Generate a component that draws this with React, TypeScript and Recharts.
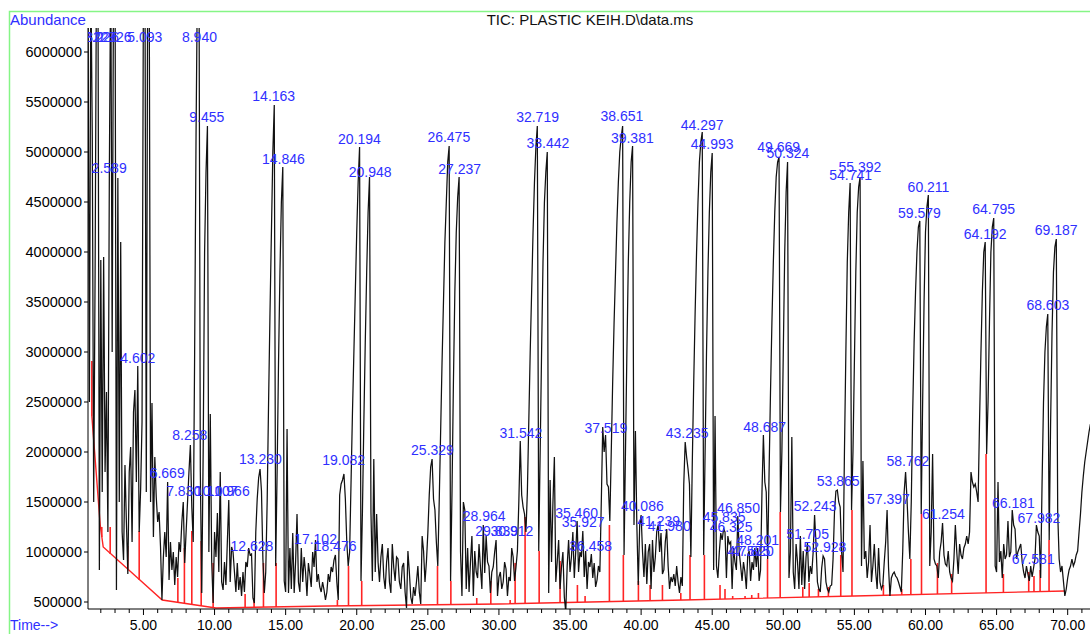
import React from 'react'
import { ComposedChart, Line, Scatter, XAxis, YAxis, ReferenceLine } from 'recharts'

// TIC scans every 0.1 min, abundance in units of 10 000 counts
const SCAN_STEP = 0.1

// 1.1 - 10.0 min
const scans01 = [
    660, 250, 680, 517, 150, 380, 700, 680, 82, 392,
    160, 395, 180, 260, 120, 475, 700, 300, 700, 690,
    62, 474, 150, 410, 120, 92, 187, 130, 78, 180,
    205, 110, 240, 262, 170, 286, 120, 162, 230, 680,
    710, 160, 690, 700, 150, 249, 115, 195, 155, 130,
    140, 105, 52, 95, 120, 95, 170, 72, 110, 82,
    100, 67, 95, 75, 110, 100, 130, 150, 89, 120,
    150, 180, 207, 145, 110, 300, 520, 680, 720, 180,
    59, 200, 400, 480, 526, 100, 238, 90, 49, 120,
]
// 10.1 - 20.0 min
const scans10 = [
    95, 139, 80, 180, 70, 62, 90, 67, 110, 152,
    70, 105, 100, 80, 60, 89, 62, 75, 56, 80,
    60, 90, 85, 104, 97, 98, 54, 49, 120, 153,
    174, 183, 161, 93, 59, 80, 150, 250, 340, 420,
    500, 547, 86, 180, 290, 380, 450, 485, 71, 60,
    223, 59, 104, 63, 119, 59, 90, 138, 70, 60,
    104, 70, 95, 80, 56, 89, 78, 65, 100, 85,
    112, 70, 78, 65, 60, 70, 62, 52, 60, 78,
    70, 85, 80, 92, 97, 70, 52, 157, 168, 172,
    178, 153, 110, 86, 100, 170, 240, 300, 360, 420,
]
// 20.1 - 30.0 min
const scans20 = [
    470, 505, 71, 140, 230, 310, 380, 440, 475, 140,
    71, 193, 80, 138, 90, 70, 95, 108, 75, 63,
    90, 104, 70, 59, 108, 85, 71, 95, 93, 70,
    63, 85, 89, 60, 44, 101, 80, 55, 48, 65,
    56, 70, 86, 60, 48, 116, 101, 70, 90, 119,
    157, 185, 193, 153, 142, 110, 86, 150, 220, 290,
    350, 410, 450, 490, 506, 71, 160, 270, 360, 420,
    455, 475, 100, 56, 150, 142, 63, 104, 60, 90,
    116, 56, 101, 80, 74, 108, 85, 63, 127, 79,
    116, 90, 86, 59, 80, 85, 100, 112, 56, 75,
]
// 30.1 - 40.0 min
const scans30 = [
    80, 63, 70, 90, 83, 56, 75, 71, 104, 95,
    71, 85, 101, 150, 211, 157, 145, 138, 120, 160,
    230, 300, 360, 420, 470, 505, 526, 101, 200, 300,
    390, 450, 480, 500, 59, 172, 90, 150, 195, 70,
    90, 112, 63, 85, 100, 55, 40, 86, 112, 80,
    95, 120, 74, 100, 131, 80, 100, 95, 121, 75,
    101, 63, 90, 85, 98, 74, 89, 65, 72, 86,
    80, 150, 225, 200, 217, 168, 165, 131, 200, 270,
    330, 380, 430, 470, 500, 515, 526, 97, 200, 300,
    390, 450, 490, 506, 127, 221, 127, 67, 127, 137,
]
// 40.1 - 50.0 min
const scans40 = [
    100, 75, 108, 68, 100, 108, 63, 112, 80, 95,
    121, 127, 100, 119, 78, 82, 110, 123, 86, 63,
    75, 70, 78, 66, 86, 70, 59, 75, 66, 168,
    210, 195, 183, 168, 95, 190, 270, 340, 400, 450,
    490, 510, 520, 97, 200, 300, 380, 440, 480, 499,
    82, 236, 86, 74, 100, 119, 112, 123, 120, 74,
    116, 108, 110, 63, 104, 90, 82, 136, 100, 86,
    71, 90, 80, 63, 97, 101, 71, 90, 82, 104,
    85, 104, 71, 82, 160, 217, 170, 160, 93, 180,
    260, 330, 390, 440, 475, 490, 495, 140, 200, 300,
]
// 50.1 - 60.0 min
const scans50 = [
    400, 460, 490, 74, 100, 215, 80, 63, 108, 90,
    63, 116, 67, 101, 63, 95, 109, 70, 86, 78,
    100, 137, 108, 70, 63, 60, 84, 96, 93, 70,
    63, 60, 66, 67, 93, 140, 161, 162, 150, 145,
    100, 80, 200, 300, 390, 440, 469, 142, 200, 290,
    380, 440, 465, 475, 86, 191, 93, 101, 74, 90,
    127, 70, 86, 108, 80, 63, 104, 70, 63, 67,
    90, 110, 142, 85, 56, 74, 78, 80, 76, 74,
    70, 65, 60, 101, 160, 180, 153, 120, 93, 150,
    240, 310, 360, 400, 425, 431, 138, 250, 350, 420,
]
// 60.1 - 71.6 min
const scans60 = [
    445, 457, 86, 120, 198, 93, 88, 86, 74, 100,
    110, 129, 97, 88, 86, 101, 80, 74, 71, 93,
    127, 100, 78, 108, 97, 93, 104, 108, 116, 108,
    120, 180, 170, 165, 168, 160, 150, 230, 300, 360,
    400, 410, 198, 250, 330, 400, 425, 434, 86, 80,
    170, 90, 101, 74, 108, 93, 97, 131, 95, 100,
    142, 127, 123, 93, 100, 104, 108, 90, 80, 74,
    86, 78, 71, 86, 75, 84, 93, 127, 120, 116,
    74, 170, 250, 300, 325, 338, 112, 230, 320, 380,
    405, 413, 138, 93, 80, 86, 71, 56, 63, 74,
    82, 86, 93, 86, 90, 97, 101, 120, 138, 160,
    176, 190, 200, 210, 220, 228,
]

const scanSegments: [number, number[]][] = [
    [1.1, scans01],
    [10.1, scans10],
    [20.1, scans20],
    [30.1, scans30],
    [40.1, scans40],
    [50.1, scans50],
    [60.1, scans60],
]

// integration baseline (min, 10 000 counts)
const baselineTimes = [1.37, 1.96, 2.17, 6.32, 10.1, 18, 30, 43, 55, 69.8]
const baselineLevels = [236, 127, 105, 52, 44, 46, 48, 52, 56, 61]

// integration marks: [time, baseline, signal]
const integrationMarks: [number, number, number][] = [
    [1.37, 236, 291], [2.07, 115, 125], [2.66, 98, 125], [3.9, 83, 106], [4.7, 72, 121],
    [7.42, 50, 74], [7.88, 49, 104], [8.4, 48, 121], [9.06, 46, 111], [9.9, 44, 89],
    [12.15, 44, 58], [12.78, 45, 54], [13.44, 45, 89], [14.33, 45, 89], [18.64, 46, 52],
    [19.42, 46, 86], [20.35, 46, 71], [25.68, 47, 86], [26.62, 47, 71], [28.44, 48, 54],
    [29.43, 48, 71], [30.79, 48, 52], [31.14, 48, 89], [31.84, 49, 135], [32.83, 49, 101],
    [34.3, 49, 91], [35.52, 50, 67], [36.06, 50, 56], [37.77, 50, 127], [38.75, 51, 97],
    [39.81, 51, 71], [40.63, 51, 67], [41.5, 52, 67], [42.79, 52, 59], [43.44, 52, 97],
    [44.45, 53, 97], [45.55, 53, 67], [45.9, 53, 63], [46.44, 53, 56], [47.31, 53, 56],
    [47.78, 54, 57], [48.25, 54, 59], [48.89, 54, 93], [49.78, 54, 140], [51.37, 55, 65],
    [51.82, 55, 69], [52.47, 55, 63], [53.17, 55, 65], [54.04, 56, 97], [54.83, 56, 142],
    [57.04, 57, 67], [58.33, 57, 63], [58.97, 57, 93], [59.72, 58, 138], [60.84, 58, 89],
    [61.84, 58, 78], [64.26, 59, 198], [65.48, 60, 78], [67.26, 60, 80], [67.63, 60, 76],
    [68.06, 60, 82], [68.69, 61, 112],
]

// labelled peaks: [retention time, apex height]
const peaks: [string, number][] = [
    ['1.322', 606], ['2.026', 606], ['2.589', 475], ['2.926', 606], ['4.602', 285],
    ['5.093', 606], ['6.669', 170], ['7.830', 152], ['8.258', 208], ['8.940', 606],
    ['9.455', 526], ['10.107', 152], ['10.966', 152], ['12.628', 97], ['13.230', 184],
    ['14.163', 547], ['14.846', 484], ['17.102', 104], ['18.476', 97], ['19.082', 183],
    ['20.194', 504], ['20.948', 471], ['25.329', 193], ['26.475', 506], ['27.237', 474],
    ['28.964', 127], ['29.839', 112], ['30.912', 112], ['31.542', 210], ['32.719', 526],
    ['33.442', 500], ['35.460', 130], ['35.927', 121], ['36.458', 97], ['37.519', 215],
    ['38.651', 527], ['39.381', 505], ['40.086', 137], ['41.239', 122], ['41.980', 117],
    ['43.235', 210], ['44.297', 518], ['44.993', 499], ['45.835', 126], ['46.325', 116],
    ['46.850', 135], ['47.575', 92], ['47.820', 92], ['48.201', 103], ['48.687', 216],
    ['49.669', 496], ['50.324', 490], ['51.705', 109], ['52.243', 137], ['52.928', 96],
    ['53.865', 162], ['54.741', 468], ['55.392', 476], ['57.397', 144], ['58.762', 182],
    ['59.579', 430], ['60.211', 456], ['61.254', 129], ['64.192', 409], ['64.795', 434],
    ['66.181', 140], ['67.581', 84], ['67.982', 125], ['68.603', 338], ['69.187', 413],
]

const abundanceTicks = [500000, 1000000, 1500000, 2000000, 2500000, 3000000, 3500000, 4000000, 4500000, 5000000, 5500000, 6000000]
const majorTimes = [5, 10, 15, 20, 25, 30, 35, 40, 45, 50, 55, 60, 65, 70]
const minuteTicks = Array.from({ length: 70 }, (_, i) => i + 2)

const UNIT = 10000
const BLUE = '#2f2fff'
const RED = '#ff2424'

const trace = scanSegments.flatMap(([start, vals]) =>
    vals.map((v, i) => ({ t: Math.round((start + i * SCAN_STEP) * 100) / 100, v: v * UNIT }))
)
const baseline = baselineTimes.map((t, i) => ({ t, v: baselineLevels[i] * UNIT }))
const peakData = peaks.map(([label, h]) => ({ t: Number(label), v: h * UNIT, label }))

function TimeTick({ x, y, payload }: any) {
    const major = majorTimes.includes(payload.value)
    return (
        <g>
            <line x1={x} y1={y} x2={x} y2={y + (major ? 6 : 4)} stroke="#000" strokeWidth={1} />
            {major && (
                <text x={x} y={y + 21} textAnchor="middle" fontSize={14} fill="#000">
                    {payload.value.toFixed(2)}
                </text>
            )}
        </g>
    )
}

function PeakLabel(props: any) {
    const { cx, cy, payload } = props
    return (
        <text x={cx} y={cy - 4} textAnchor="middle" fontSize={14} fill={BLUE}>
            {payload.label}
        </text>
    )
}

export default function App() {
    return (
        <div
            style={{
                position: 'absolute',
                left: 0,
                top: 0,
                width: 1090,
                height: 634,
                background: '#fff',
                fontFamily: '"Liberation Sans", Arial, sans-serif',
            }}
        >
            <ComposedChart width={1090} height={634} margin={{ top: 28, right: 0, bottom: 3, left: 8 }}>
                <XAxis
                    type="number"
                    dataKey="t"
                    domain={[1.1, 71.57]}
                    allowDataOverflow
                    ticks={minuteTicks}
                    interval={0}
                    tick={<TimeTick />}
                    tickLine={false}
                    tickSize={0}
                    tickMargin={0}
                    height={22}
                    axisLine={{ stroke: '#000' }}
                />
                <YAxis
                    type="number"
                    dataKey="v"
                    domain={[430000, 6240000]}
                    allowDataOverflow
                    ticks={abundanceTicks}
                    interval={0}
                    width={80}
                    tickSize={4}
                    tickMargin={2}
                    tick={{ fill: '#000', fontSize: 14.5 }}
                    tickLine={{ stroke: '#000' }}
                    axisLine={{ stroke: '#000' }}
                    tickFormatter={(v: number) => String(v)}
                />
                <Line
                    data={baseline}
                    dataKey="v"
                    type="linear"
                    stroke={RED}
                    strokeWidth={1.4}
                    dot={false}
                    isAnimationActive={false}
                />
                {integrationMarks.map(([t, base, top], i) => (
                    <ReferenceLine
                        key={i}
                        segment={[
                            { x: t, y: base * UNIT },
                            { x: t, y: top * UNIT },
                        ]}
                        stroke={RED}
                        strokeWidth={1.6}
                    />
                ))}
                <Line
                    data={trace}
                    dataKey="v"
                    type="linear"
                    stroke="#111"
                    strokeWidth={1.25}
                    dot={false}
                    isAnimationActive={false}
                />
                <Scatter data={peakData} dataKey="v" shape={<PeakLabel />} isAnimationActive={false} />
            </ComposedChart>
            <svg
                width={1090}
                height={634}
                style={{ position: 'absolute', left: 0, top: 0, pointerEvents: 'none' }}
            >
                <path d="M9.5 634 V11.5 H1090" stroke="#86f586" strokeWidth={1.5} fill="none" />
                <text x={10} y={25} fontSize={15} fill={BLUE}>
                    Abundance
                </text>
                <text x={590} y={25} fontSize={15} fill="#111" textAnchor="middle">
                    TIC: PLASTIC KEIH.D\data.ms
                </text>
                <text x={10} y={630} fontSize={14} fill={BLUE}>
                    Time--&gt;
                </text>
            </svg>
        </div>
    )
}
